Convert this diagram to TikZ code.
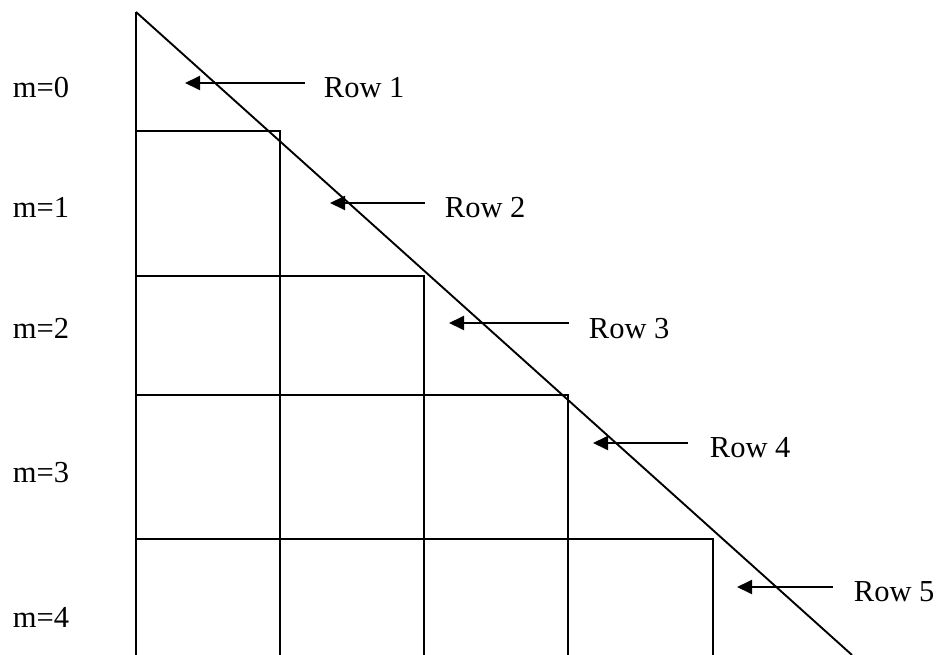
\documentclass[tikz,border=0pt]{standalone}
\usepackage{fontspec}
\setmainfont{Liberation Serif}
\usetikzlibrary{arrows.meta}

\begin{document}
\begin{tikzpicture}[x=1pt, y=-1pt, line width=1.9pt,
    lbl/.style={anchor=base west, inner sep=0pt, font=\fontsize{30.5}{36}\selectfont},
    arr/.style={-{Triangle[length=15pt, width=14pt]}, line width=1.9pt}]
    \useasboundingbox (0,0) rectangle (939,655);

    % Draw triangle
    \draw (136,12) -- (136,655);
    \draw (136,12) -- (852,655);

    % Draw cells
    \draw (136,131) -- (280,131) -- (280,655);
    \draw (136,276) -- (424,276) -- (424,655);
    \draw (136,395) -- (568,395) -- (568,655);
    \draw (136,539) -- (713,539) -- (713,655);

    % Draw labels
    \node[lbl] (m0) at (12,98) {m=0};
    \node[lbl] (m1) at (12,218) {m=1};
    \node[lbl] (m2) at (12,338) {m=2};
    \node[lbl] (m3) at (12,482) {m=3};
    \node[lbl] (m4) at (12,627) {m=4};

    \node[lbl] (r1) at (323,98) {Row 1};
    \node[lbl] (r2) at (444,218) {Row 2};
    \node[lbl] (r3) at (588,338) {Row 3};
    \node[lbl] (r4) at (709,457) {Row 4};
    \node[lbl] (r5) at (853,601) {Row 5};

    % Draw arrows
    \coordinate (t1) at (305,83);  \coordinate (h1) at (185,83);
    \coordinate (t2) at (425,203); \coordinate (h2) at (330,203);
    \coordinate (t3) at (569,323); \coordinate (h3) at (449,323);
    \coordinate (t4) at (688,443); \coordinate (h4) at (593,443);
    \coordinate (t5) at (833,587); \coordinate (h5) at (737,587);

    \draw[arr] (t1) -- (h1);
    \draw[arr] (t2) -- (h2);
    \draw[arr] (t3) -- (h3);
    \draw[arr] (t4) -- (h4);
    \draw[arr] (t5) -- (h5);
\end{tikzpicture}
\end{document}
